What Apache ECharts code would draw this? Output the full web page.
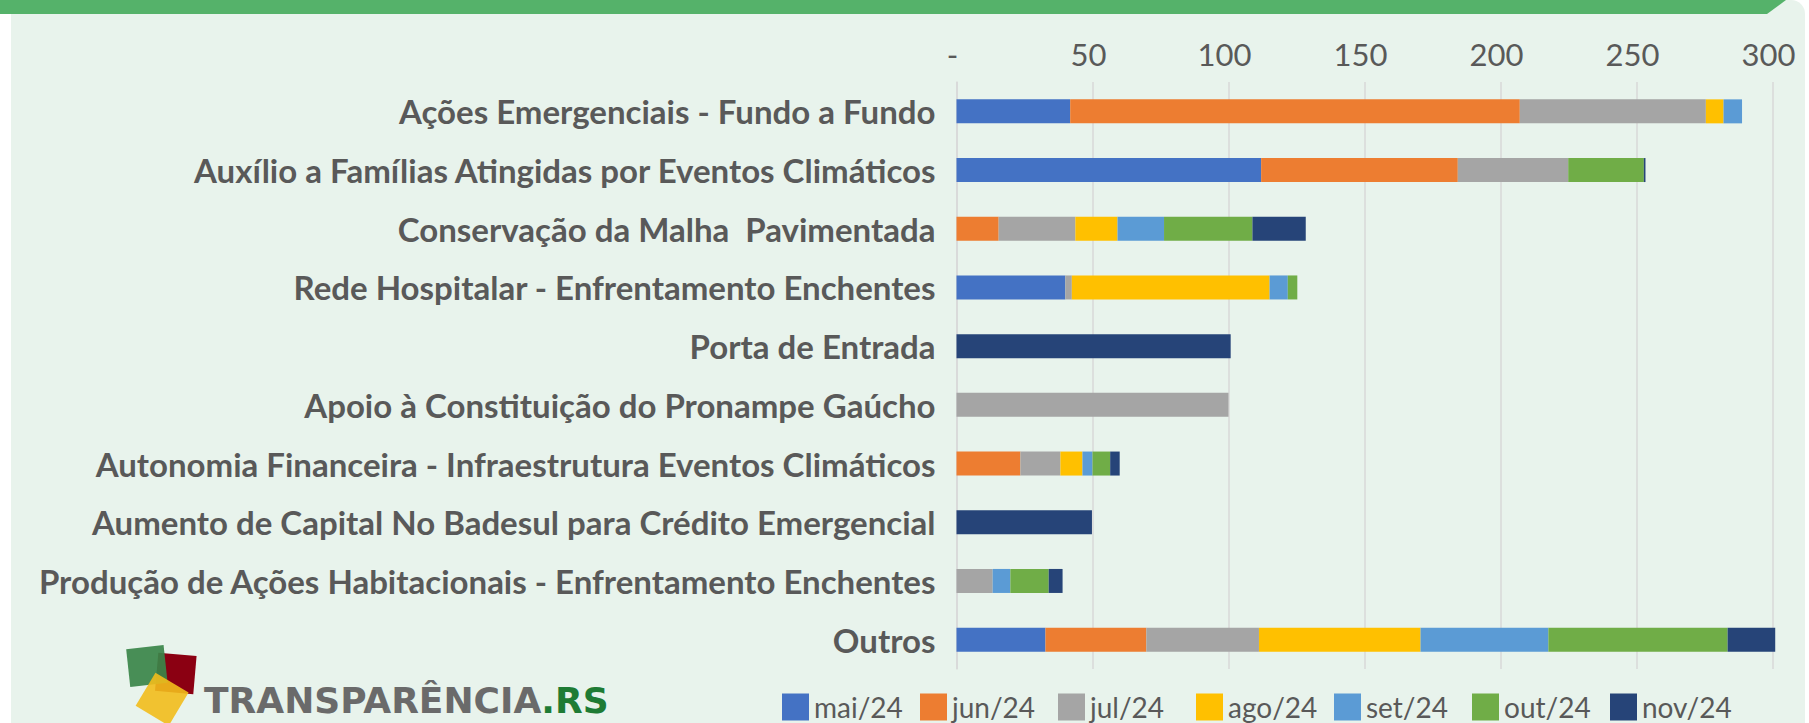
<!DOCTYPE html>
<html>
<head>
<meta charset="utf-8">
<script src="https://cdn.jsdelivr.net/npm/echarts@6/dist/echarts.min.js"></script>
<style>
  html, body { margin: 0; padding: 0; background: #ffffff; }
  #bg { position: absolute; left: 11px; top: 0; width: 1794px; height: 723px; background: #E8F3EC; border-top-right-radius: 14px; }
  #banner { position: absolute; left: 0; top: 0; width: 1790px; height: 14px; background: #55B26A;
            clip-path: polygon(0 0, 1786px 0, 1767px 14px, 0 14px); }
  #chart { position: absolute; left: 0; top: 0; width: 1809px; height: 723px; }
</style>
</head>
<body>
<div id="bg"></div>
<div id="banner"></div>
<div id="chart"></div>
<script>
const categories = [
  "Ações Emergenciais - Fundo a Fundo",
  "Auxílio a Famílias Atingidas por Eventos Climáticos",
  "Conservação da Malha  Pavimentada",
  "Rede Hospitalar - Enfrentamento Enchentes",
  "Porta de Entrada",
  "Apoio à Constituição do Pronampe Gaúcho",
  "Autonomia Financeira - Infraestrutura Eventos Climáticos",
  "Aumento de Capital No Badesul para Crédito Emergencial",
  "Produção de Ações Habitacionais - Enfrentamento Enchentes",
  "Outros"
];
const seriesNames = ["mai/24", "jun/24", "jul/24", "ago/24", "set/24", "out/24", "nov/24"];
const mai = [41.8, 112.0, 0, 40.0, 0, 0, 0, 0, 0, 32.7];
const jun = [165.3, 72.3, 15.5, 0, 0, 0, 23.5, 0, 0, 37.1];
const jul = [68.4, 40.6, 28.2, 2.4, 0, 100.0, 14.7, 0, 13.3, 41.4];
const ago = [6.5, 0, 15.5, 72.7, 0, 0, 8.1, 0, 0, 59.4];
const set = [6.8, 0, 17.1, 6.7, 0, 0, 3.7, 0, 6.5, 47.0];
const out = [0, 27.8, 32.5, 3.5, 0, 0, 6.5, 0, 14.1, 65.9];
const nov = [0, 0.6, 19.6, 0, 100.8, 0, 3.5, 49.8, 5.1, 17.5];
const tickValues = [0, 50, 100, 150, 200, 250, 300];
const colors = ["#4472C4", "#ED7D31", "#A5A5A5", "#FFC000", "#5B9BD5", "#70AD47", "#264478"];

const seriesData = [mai, jun, jul, ago, set, out, nov];
const FONT = "Lato, 'Open Sans', sans-serif";

const chart = echarts.init(document.getElementById('chart'), null, { renderer: 'svg' });
chart.setOption({
  backgroundColor: 'transparent',
  animation: false,
  color: colors,
  grid: { left: 956.5, right: 36.5, top: 82, bottom: 54, containLabel: false },
  xAxis: {
    type: 'value',
    position: 'top',
    min: tickValues[0],
    max: tickValues[tickValues.length - 1],
    interval: 50,
    axisLine: { show: false },
    axisTick: { show: false },
    splitLine: { show: true, lineStyle: { color: '#D9D9D9', width: 1.5 } },
    axisLabel: {
      fontFamily: FONT, fontSize: 31, color: '#595959', margin: 13,
      padding: [0, 8, 0, 0],
      formatter: v => v === 0 ? '-' : String(v)
    }
  },
  yAxis: {
    type: 'category',
    inverse: true,
    data: categories,
    axisLine: { show: true, lineStyle: { color: '#D9D9D9', width: 1.5 } },
    axisTick: { show: false },
    axisLabel: { fontFamily: FONT, fontSize: 33, fontWeight: 'bold', color: '#595959', margin: 21 }
  },
  legend: {
    show: true,
    left: 782, top: 693, padding: 0,
    itemWidth: 27, itemHeight: 27, itemGap: 10,
    icon: 'rect',
    data: seriesNames,
    textStyle: { fontFamily: FONT, fontSize: 28, color: '#595959', width: 96, lineHeight: 27, padding: [0, 0, 0, 0] }
  },
  series: seriesNames.map((n, i) => ({
    name: n,
    type: 'bar',
    stack: 'total',
    barWidth: 24,
    clip: false,
    data: seriesData[i],
    itemStyle: { color: colors[i] },
    emphasis: { disabled: true }
  })),
  graphic: [
    { type: 'rect', x: 175.8, y: 673.4, rotation: -0.086, shape: { x: -19.2, y: -19.2, width: 38.4, height: 38.4 }, style: { fill: '#8B0012' }, z: 10 },
    { type: 'rect', x: 146.9, y: 666, rotation: 0.107, shape: { x: -18.8, y: -19, width: 37.6, height: 38 }, style: { fill: '#3A8549', opacity: 0.92 }, z: 11 },
    { type: 'rect', x: 162.1, y: 699.2, rotation: -0.54, shape: { x: -19.3, y: -19.3, width: 38.6, height: 38.6 }, style: { fill: '#F2BC1C', opacity: 0.9 }, z: 12 },
    { type: 'text', x: 204, y: 700, z: 13,
      style: {
        text: '{a|TRANSPARÊNCIA}{b|.RS}',
        verticalAlign: 'middle', align: 'left',
        rich: {
          a: { fontFamily: "'DejaVu Sans', sans-serif", fontWeight: 'bold', fontSize: 36, fill: '#6A6A6A', color: '#6A6A6A' },
          b: { fontFamily: "'DejaVu Sans', sans-serif", fontWeight: 'bold', fontSize: 36, fill: '#1E7B34', color: '#1E7B34' }
        }
      }
    }
  ]
});
</script>
</body>
</html>
